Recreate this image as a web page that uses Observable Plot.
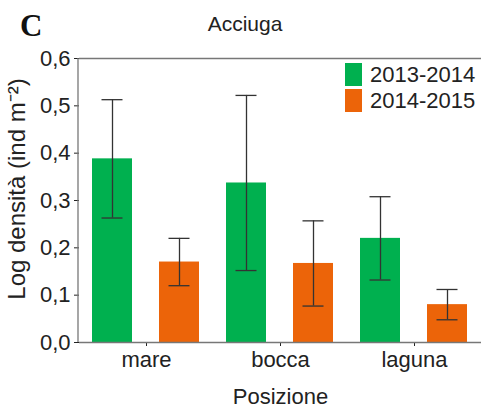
<!DOCTYPE html>
<html>
<head>
<meta charset="utf-8">
<script src="https://cdn.jsdelivr.net/npm/d3@7"></script>
<script src="https://cdn.jsdelivr.net/npm/@observablehq/plot@0.6"></script>
<style>
  html, body { margin: 0; padding: 0; background: #fff; }
  #fig { position: relative; width: 485px; height: 407px; overflow: hidden; font-family: "Liberation Sans", Arial, sans-serif; color: #222; }
  #panel { position: absolute; left: 20px; top: 8px; font-family: "Liberation Serif", "Times New Roman", serif; font-weight: bold; font-size: 31px; color: #111; }
  #title { position: absolute; left: 0; width: 490px; top: 12px; text-align: center; font-size: 21px; }
  .leg { position: absolute; left: 345px; font-size: 22px; line-height: 23px; white-space: nowrap; }
  .leg span.sw { display: inline-block; width: 17px; height: 23px; vertical-align: top; margin-right: 8px; }
</style>
</head>
<body>
<div id="fig">
  <div id="chart"></div>
  <div id="panel">C</div>
  <div id="title">Acciuga</div>
  <div id="legend"></div>
</div>
<script>
// Anchovy log density by position, two survey seasons (mean ± error)
const positions = ["mare", "bocca", "laguna"];
const seasons = ["2013-2014", "2014-2015"];
const mean2013 = [0.388, 0.337, 0.220];
const err2013 = [0.125, 0.185, 0.088];
const mean2014 = [0.170, 0.167, 0.080];
const err2014 = [0.050, 0.090, 0.032];
const yTicks = [0, 0.1, 0.2, 0.3, 0.4, 0.5, 0.6];
const yLabel = "Log densità (ind m⁻²)";
const colors = ["#00b04f", "#ec6409"];

const rows = [];
positions.forEach((p, i) => {
  rows.push({pos: p, season: seasons[0], v: mean2013[i], e: err2013[i]});
  rows.push({pos: p, season: seasons[1], v: mean2014[i], e: err2014[i]});
});

const plot = Plot.plot({
  width: 485,
  height: 407,
  marginLeft: 78,
  marginRight: 3,
  marginTop: 58,
  marginBottom: 65,
  style: {fontFamily: "'Liberation Sans', Arial, sans-serif", fontSize: "22px", color: "#222", background: "white"},
  facet: {data: rows, x: "pos"},
  fx: {domain: positions, padding: 0, label: "Posizione", labelAnchor: "center", labelOffset: 61, tickSize: 4, tickPadding: 5},
  x: {domain: seasons, paddingInner: 0.4, paddingOuter: 0.2, axis: null},
  y: {domain: [0, 0.6], ticks: yTicks, tickFormat: d => d.toFixed(1).replace(".", ","), tickSize: 5, tickPadding: 4, label: null},
  color: {domain: seasons, range: colors},
  marks: [
    Plot.barY(rows, {x: "season", y: "v", fill: "season"}),
    Plot.ruleX(rows, {x: "season", y1: d => d.v - d.e, y2: d => d.v + d.e, stroke: "#333", strokeWidth: 1.3}),
    Plot.tickY(rows, {x: "season", y: d => d.v + d.e, stroke: "#333", strokeWidth: 1.3, insetLeft: 9.5, insetRight: 9.5}),
    Plot.tickY(rows, {x: "season", y: d => d.v - d.e, stroke: "#333", strokeWidth: 1.3, insetLeft: 9.5, insetRight: 9.5}),
    Plot.ruleY([0], {stroke: "#777", strokeWidth: 1.3}),
    Plot.ruleY([0.6], {stroke: "#777", strokeWidth: 1.3})
  ]
});
document.getElementById("chart").appendChild(plot);

const svg = d3.select(plot);
// left axis line
svg.append("line")
  .attr("x1", 78).attr("x2", 78).attr("y1", 58).attr("y2", 342)
  .attr("stroke", "#777").attr("stroke-width", 1.3);
// vertical axis title
svg.append("text")
  .attr("transform", "translate(16,189) rotate(-90)")
  .attr("text-anchor", "middle")
  .attr("dy", "0.36em")
  .attr("fill", "#222")
  .style("font-size", "24px")
  .text(yLabel);

// legend
const legend = document.getElementById("legend");
seasons.forEach((s, i) => {
  const row = document.createElement("div");
  row.className = "leg";
  row.style.top = (63 + i * 26) + "px";
  row.innerHTML = `<span class="sw" style="background:${colors[i]}"></span>${s}`;
  legend.appendChild(row);
});
</script>
</body>
</html>
